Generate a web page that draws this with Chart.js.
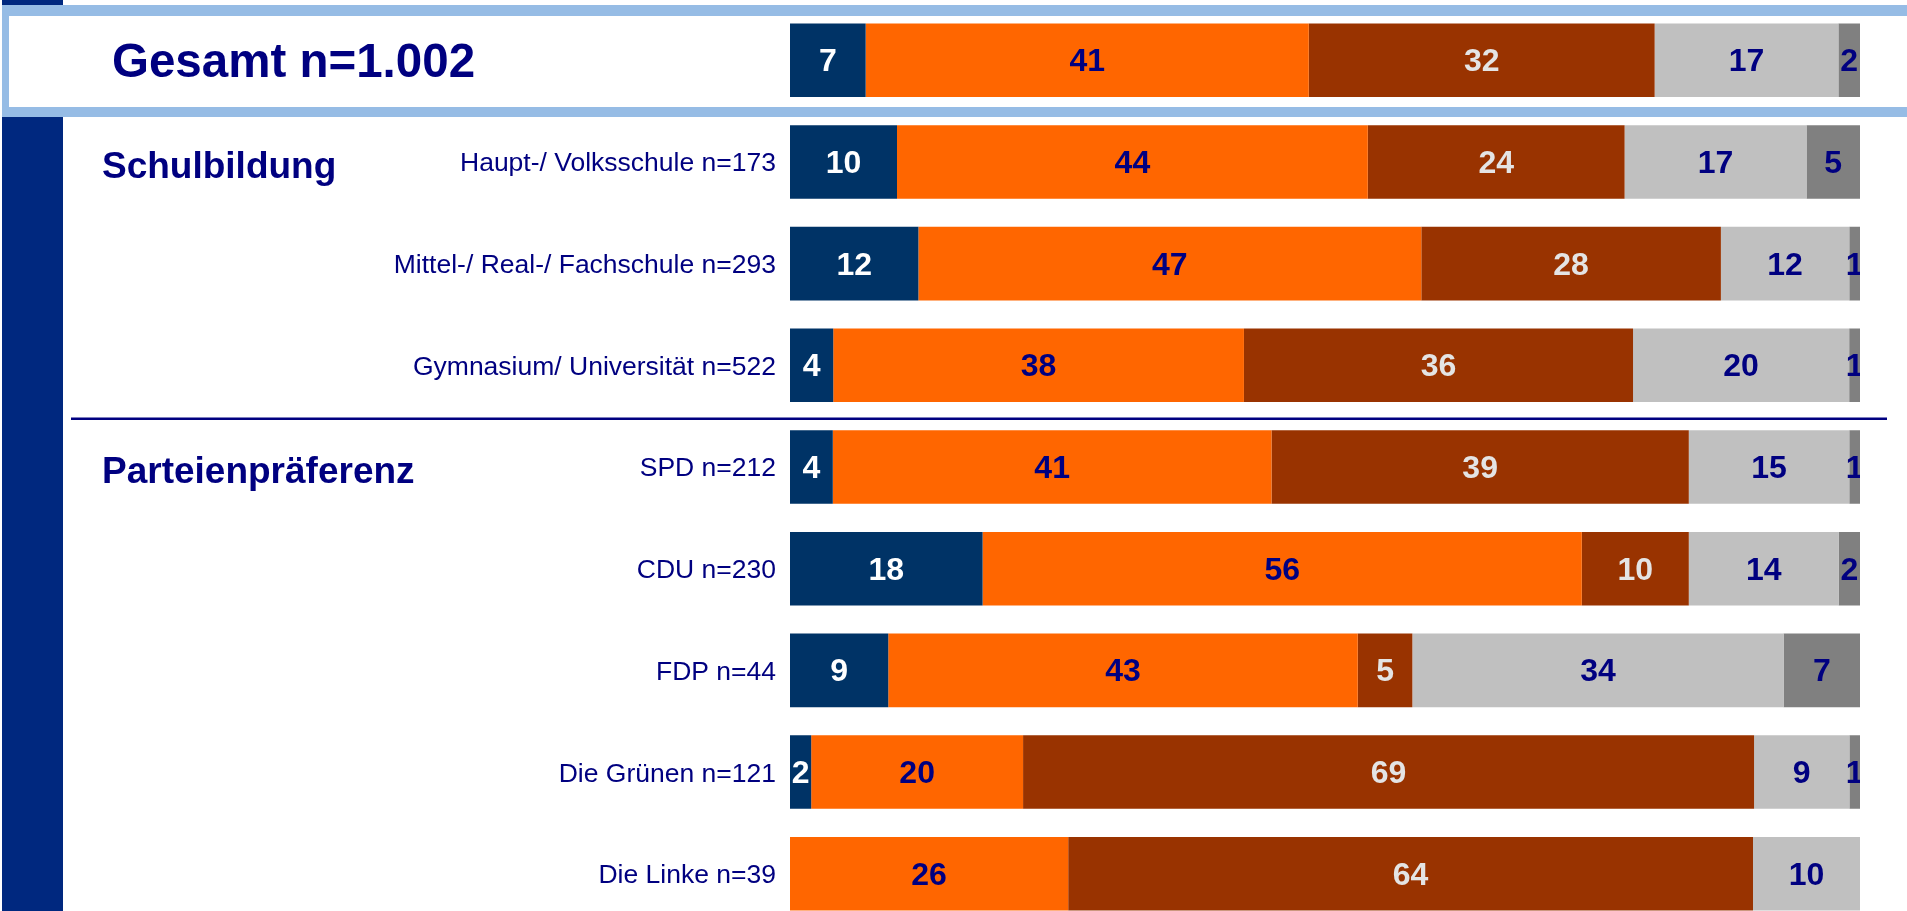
<!DOCTYPE html>
<html>
<head>
<meta charset="utf-8">
<script src="https://cdn.jsdelivr.net/npm/chart.js@4"></script>
<style>
  html, body { margin: 0; padding: 0; background: #fff; overflow: hidden; }
  canvas { display: block; }
</style>
</head>
<body>
<canvas id="grafico" width="1907" height="925"></canvas>
<script>
const categorias = [
  'Gesamt n=1.002',
  'Haupt-/ Volksschule n=173',
  'Mittel-/ Real-/ Fachschule n=293',
  'Gymnasium/ Universität n=522',
  'SPD n=212',
  'CDU n=230',
  'FDP n=44',
  'Die Grünen n=121',
  'Die Linke n=39'
];
const dunkelblau = [7, 10, 12, 4, 4, 18, 9, 2, 0];
const orange     = [41, 44, 47, 38, 41, 56, 43, 20, 26];
const braun      = [32, 24, 28, 36, 39, 10, 5, 69, 64];
const hellgrau   = [17, 17, 12, 20, 15, 14, 34, 9, 10];
const grau       = [2, 5, 1, 1, 1, 2, 7, 1, 0];

const abschnitte = ['Schulbildung', 'Parteienpräferenz'];
const abschnittZeile = [1, 4];

const FONT = "'Liberation Sans', Arial, Helvetica, sans-serif";
const NAVY = '#000080';

const serien = [
  { nome: 'dunkelblau', valores: dunkelblau, cor: '#003366', texto: '#ffffff' },
  { nome: 'orange', valores: orange, cor: '#ff6600', texto: NAVY },
  { nome: 'braun', valores: braun, cor: '#993300', texto: '#e4e4e4' },
  { nome: 'hellgrau', valores: hellgrau, cor: '#c0c0c0', texto: NAVY },
  { nome: 'grau', valores: grau, cor: '#808080', texto: NAVY }
];

// 100%-gestapelt: jede Zeile auf ihre Summe normiert
const somas = categorias.map((_, i) => serien.reduce((acc, s) => acc + s.valores[i], 0));

function texto(ctx, s, x, y, size, bold, cor, align, sx) {
  ctx.save();
  ctx.translate(x, y + size * 0.358);
  ctx.scale(sx || 1, 1);
  ctx.font = (bold ? 'bold ' : '') + size + 'px ' + FONT;
  ctx.fillStyle = cor;
  ctx.textAlign = align;
  ctx.textBaseline = 'alphabetic';
  ctx.fillText(s, 0, 0);
  ctx.restore();
}

const fundo = {
  id: 'fundo',
  beforeDraw(chart) {
    const ctx = chart.ctx;
    ctx.save();
    ctx.fillStyle = '#ffffff';
    ctx.fillRect(0, 0, chart.width, chart.height);
    // linker Balken
    ctx.fillStyle = '#00287f';
    ctx.fillRect(2, 0, 61, chart.height);
    // Rahmen um Gesamt
    ctx.fillStyle = '#96bce5';
    ctx.fillRect(2, 5, chart.width, 112);
    ctx.fillStyle = '#ffffff';
    ctx.fillRect(9, 16, chart.width, 91);
    // Trennlinie
    ctx.fillStyle = NAVY;
    ctx.fillRect(71, 417.5, 1816, 2.5);
    ctx.restore();
  },
  afterDatasetsDraw(chart) {
    const ctx = chart.ctx;
    const y = chart.scales.y;
    const area = chart.chartArea;

    // Beschriftungen links
    categorias.forEach((c, i) => {
      const cy = y.getPixelForValue(i);
      if (i === 0) {
        texto(ctx, c, 112, cy, 47.5, true, NAVY, 'left', 1);
      } else {
        texto(ctx, c, 776, cy, 26.5, false, NAVY, 'right', 1);
      }
    });
    abschnitte.forEach((t, k) => {
      const cy = y.getPixelForValue(abschnittZeile[k]) + 3;
      texto(ctx, t, 102, cy, 37, true, NAVY, 'left', 1);
    });

    // Werte in den Segmenten
    ctx.save();
    ctx.beginPath();
    ctx.rect(area.left, area.top, area.right - area.left, area.bottom - area.top);
    ctx.clip();
    chart.data.datasets.forEach((ds, d) => {
      const meta = chart.getDatasetMeta(d);
      meta.data.forEach((bar, i) => {
        const v = serien[d].valores[i];
        if (!v) return;
        const cx = (bar.x + bar.base) / 2;
        texto(ctx, String(v), cx, bar.y, 30.5, true, serien[d].texto, 'center', 1.05);
      });
    });
    ctx.restore();
  }
};

new Chart(document.getElementById('grafico'), {
  type: 'bar',
  data: {
    labels: categorias,
    datasets: serien.map(s => ({
      label: s.nome,
      data: s.valores.map((v, i) => v / somas[i] * 100),
      backgroundColor: s.cor,
      borderWidth: 0,
      barPercentage: 0.723,
      categoryPercentage: 1
    }))
  },
  options: {
    indexAxis: 'y',
    responsive: false,
    animation: false,
    devicePixelRatio: 1,
    layout: { padding: { left: 790, right: 47, top: 9.4, bottom: 0.4 } },
    scales: {
      x: { stacked: true, min: 0, max: 100, display: false },
      y: { stacked: true, display: false }
    },
    plugins: {
      legend: { display: false },
      tooltip: { enabled: false }
    }
  },
  plugins: [fundo]
});
</script>
</body>
</html>
